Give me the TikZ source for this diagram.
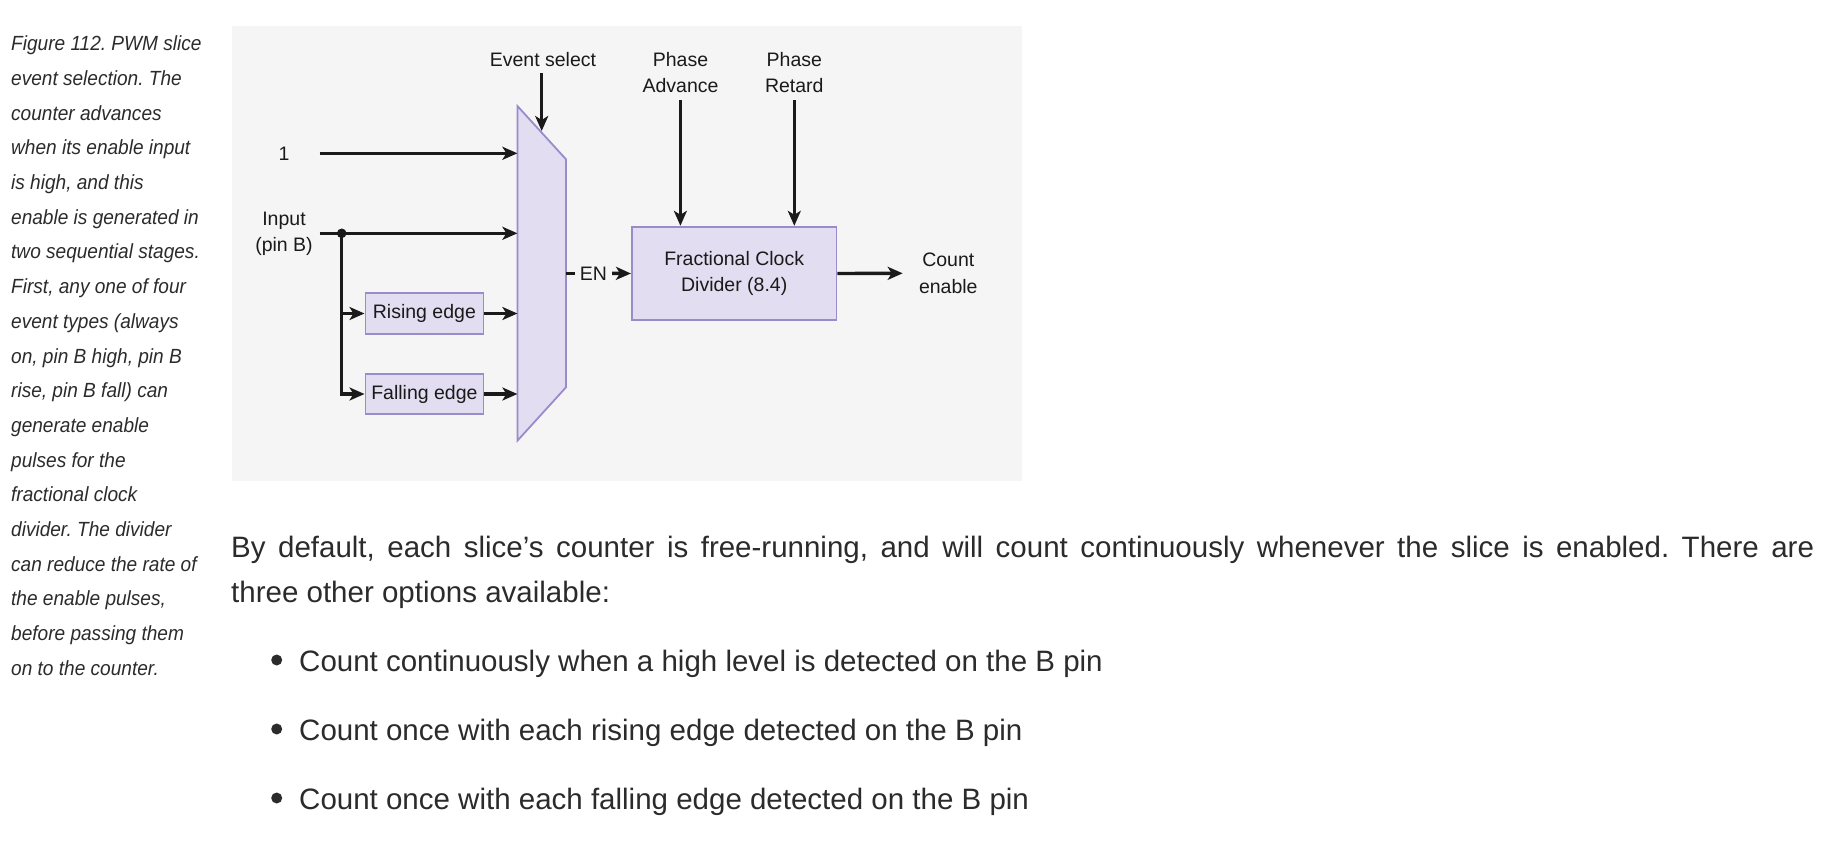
\documentclass[tikz,border=0pt]{standalone}
\usepackage{fontspec}
\setmainfont{Liberation Sans}
\newfontfamily\capfont[FakeStretch=0.93]{Liberation Sans}
\usetikzlibrary{arrows.meta}
\definecolor{bgc}{HTML}{F5F5F5}
\definecolor{pfill}{HTML}{E2DDF0}
\definecolor{pdraw}{HTML}{9A8BCB}
\definecolor{ink}{HTML}{1A1A1A}
\definecolor{txt}{HTML}{2B2B2B}
\frenchspacing
\begin{document}
\begin{tikzpicture}[x=1pt,y=-1pt,
  lbl/.style={font=\fontsize{19.5}{26.5}\selectfont, text=ink, align=center, inner sep=0pt},
  blk/.style={draw=pdraw, fill=pfill, line width=1.8pt, inner sep=0pt, font=\fontsize{19.5}{26.5}\selectfont, text=ink, align=center},
  wire/.style={draw=ink, line width=3.4pt},
  arr/.style={wire, -{Stealth[length=15pt,width=13pt,inset=4pt]}},
  captxt/.style={font=\capfont\itshape\fontsize{20.5}{34.7}\selectfont, text=txt, anchor=base west, inner sep=0pt},
  body/.style={font=\fontsize{29.5}{45}\selectfont, text=txt, anchor=base west, inner sep=0pt}]
\useasboundingbox (0,0) rectangle (1823,846);

% caption
\foreach \t [count=\i from 0] in {{Figure 112. PWM slice},{event selection. The},{counter advances},{when its enable input},{is high, and this},{enable is generated in},{two sequential stages.},{First, any one of four},{event types (always},{on, pin B high, pin B},{rise, pin B fall) can},{generate enable},{pulses for the},{fractional clock},{divider. The divider},{can reduce the rate of},{the enable pulses,},{before passing them},{on to the counter.}}
  \node[captxt] (cap\i) at (11,50.7+34.7*\i) {\t};

% diagram background
\fill[bgc] (231.5,26) rectangle (1022.3,481);

% mux
\draw[draw=pdraw, fill=pfill, line width=1.8pt] (517.4,106) -- (566,159.3) -- (566,387.3) -- (517.4,440.7) -- cycle;
\coordinate (m1) at (517.4,153.3);
\coordinate (m2) at (517.4,233.3);
\coordinate (m3) at (517.4,313.5);
\coordinate (m4) at (517.4,394);
\coordinate (mo) at (566,273.3);
\coordinate (evtip) at (541.7,131);

% labels
\node[lbl] (one) at (284,153.3) {1};
\node[lbl] (inp) at (284,234) {Input\\(pin B)};
\node[lbl] (evs) at (543,59.3) {Event select};
\node[lbl] (pa) at (680.5,72.7) {Phase\\Advance};
\node[lbl] (pr) at (794.3,72.7) {Phase\\Retard};
\node[lbl] (ce) at (948.3,273.5) {Count\\enable};
\node[lbl] (en) at (593.4,273.3) {EN};

% boxes
\node[blk, minimum width=118pt, minimum height=40.7pt] (rise) at (424.4,313.5) {Rising edge};
\node[blk, minimum width=118pt, minimum height=40.7pt] (fall) at (424.4,394) {Falling edge};
\node[blk, minimum width=204.7pt, minimum height=93.6pt] (div) at (734.2,273.5) {Fractional Clock\\Divider (8.4)};

% wire start points
\coordinate (s1) at (319.6,153.3);
\coordinate (s2) at (319.6,233.3);
\coordinate (jn) at (341.7,233.3);
\coordinate (es) at (541.7,73.3);
\coordinate (pas) at (680.4,100);
\coordinate (prs) at (794.3,100);
\coordinate (ceend) at (902.7,273.3);

% wires
\draw[arr] (s1) -- (m1);
\draw[arr] (s2) -- (m2);
\fill[ink] (jn) circle (4.8pt);
\draw[arr] (jn) |- (fall.west);
\draw[arr] (jn |- rise.west) -- (rise.west);
\draw[arr] (rise.east) -- (m3);
\draw[arr] (fall.east) -- (m4);
\draw[arr] (es) -- (evtip);
\draw[wire] (mo) -- ([xshift=-5pt]en.west);
\draw[arr] ([xshift=5pt]en.east) -- (div.west);
\draw[arr] (pas) -- (pas |- div.north);
\draw[arr] (prs) -- (prs |- div.north);
\draw[arr] (div.east) -- (ceend);

% body text
\node[body] (p1) at (231,557.3) {\makebox[1583pt][s]{By default, each slice’s counter is free-running, and will count continuously whenever the slice is enabled. There are}};
\node[body] (p2) at (231,602) {three other options available:};
\fill[txt] (276.7,660) circle (5.5pt);
\fill[txt] (276.7,729) circle (5.5pt);
\fill[txt] (276.7,798) circle (5.5pt);
\node[body] (b1) at (299,671.5) {Count continuously when a high level is detected on the B pin};
\node[body] (b2) at (299,740.5) {Count once with each rising edge detected on the B pin};
\node[body] (b3) at (299,809) {Count once with each falling edge detected on the B pin};
\end{tikzpicture}
\end{document}
